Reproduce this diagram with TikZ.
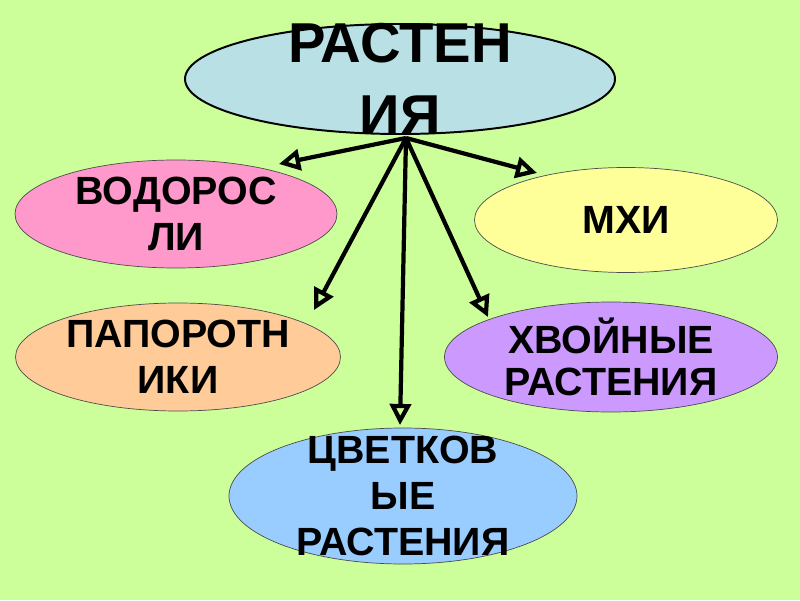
\documentclass[tikz,border=0pt]{standalone}
\usepackage{fontspec}
\setmainfont{Liberation Sans}
\usetikzlibrary{arrows.meta, shapes.geometric}
\definecolor{bggreen}{RGB}{204,255,153}
\definecolor{rootblue}{RGB}{185,225,229}
\definecolor{algaepink}{RGB}{255,153,204}
\definecolor{mossyellow}{RGB}{255,255,153}
\definecolor{fernpeach}{RGB}{255,204,153}
\definecolor{coniferlilac}{RGB}{204,153,255}
\definecolor{flowerblue}{RGB}{153,204,255}

\tikzset{
  plant/.style={ellipse, draw=black!70, line width=0.5pt, inner sep=0pt},
  plantname/.style={align=center, font=\fontsize{28}{33}\selectfont\bfseries},
  branch/.style={-{Triangle[open, length=15pt, width=15pt]}, line width=3pt}
}

\begin{document}
\begin{tikzpicture}
\useasboundingbox (0,0) rectangle (20,15);
\fill[bggreen] (0,0) rectangle (20,15);

% ---- ellipses ----
\node[plant, draw=black, line width=1.4pt, fill=rootblue,
      minimum width=10.75cm, minimum height=2.75cm] (root) at (10,13.025) {};
\node[plant, fill=algaepink, minimum width=8.05cm, minimum height=2.7cm]
  (algae) at (4.4,9.65) {};
\node[plant, fill=mossyellow, minimum width=7.575cm, minimum height=2.625cm]
  (moss) at (15.65,9.5) {};
\node[plant, fill=fernpeach, minimum width=8.125cm, minimum height=2.7cm]
  (fern) at (4.45,6.075) {};
\node[plant, fill=coniferlilac, minimum width=8.325cm, minimum height=2.75cm]
  (conifer) at (15.275,6.075) {};
\node[plant, fill=flowerblue, minimum width=8.7cm, minimum height=3.4cm]
  (flower) at (10.075,2.6) {};

% ---- names ----
\node[plantname, font=\fontsize{40}{51}\selectfont\bfseries] (roottext)
  at (root.center) {РАСТЕН\\ИЯ};
\node[plantname] (algaetext) at (algae.center) {ВОДОРОС\\ЛИ};
\node[plantname] (mosstext) at (moss.center) {МХИ};
\node[plantname] (ferntext) at (fern.center) {ПАПОРОТН\\ИКИ};
\node[plantname, font=\fontsize{28}{30}\selectfont\bfseries] (conifertext)
  at (conifer.center) {ХВОЙНЫЕ\\РАСТЕНИЯ};
\node[plantname] (flowertext) at (flower.center) {ЦВЕТКОВ\\ЫЕ\\РАСТЕНИЯ};

% ---- arrows ----
\coordinate (hub) at (10.15,11.55);
\coordinate (toalgae) at (6.975,10.9);
\coordinate (tomoss) at (13.425,10.675);
\coordinate (tofern) at (7.85,7.25);
\coordinate (toconifer) at (12.2,7.075);
\coordinate (toflower) at (10.0,4.375);
\foreach \t in {toalgae, tomoss, tofern, toconifer, toflower}
  \draw[branch] (hub) -- (\t);
\end{tikzpicture}
\end{document}
